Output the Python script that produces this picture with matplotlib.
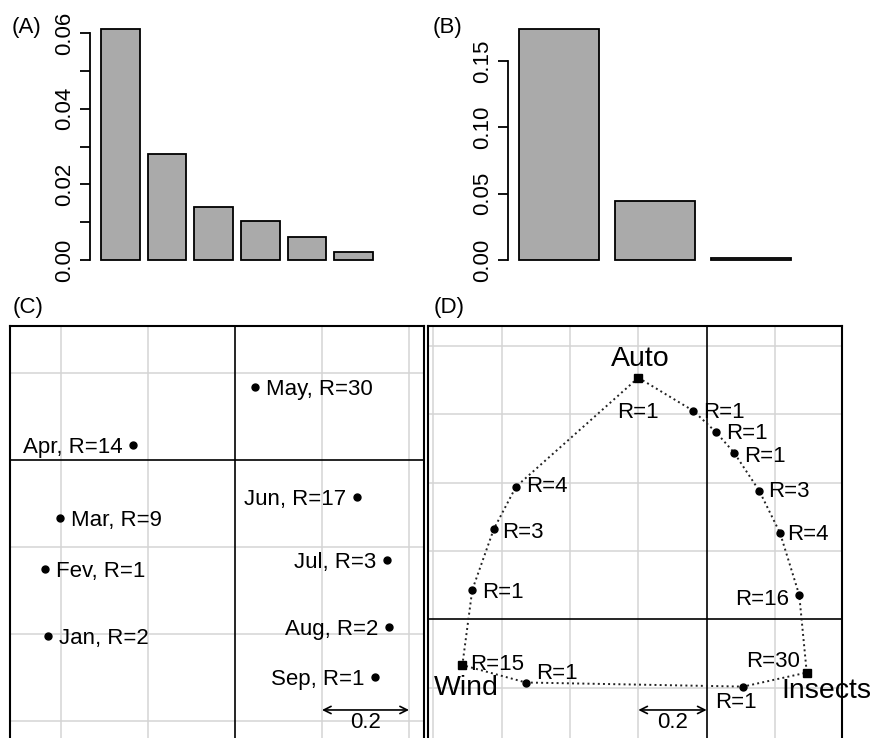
import matplotlib
matplotlib.use("Agg")
import matplotlib.pyplot as plt

plt.rcParams['font.family'] = ['Liberation Sans', 'DejaVu Sans']

# (A) and (B) bar heights
bars_a = [0.0611, 0.0280, 0.0140, 0.0103, 0.0061, 0.0022]
bars_b = [0.1742, 0.0443, 0.0018]
ticks_a = [0.00, 0.01, 0.02, 0.03, 0.04, 0.05, 0.06]
ticks_b = [0.00, 0.05, 0.10, 0.15]

# (C) months
months = ['Jan', 'Fev', 'Mar', 'Apr', 'May', 'Jun', 'Jul', 'Aug', 'Sep']
month_r = [2, 1, 9, 14, 30, 17, 3, 2, 1]
month_x = [-0.429, -0.437, -0.402, -0.234, 0.046, 0.281, 0.349, 0.355, 0.323]
month_y = [-0.405, -0.251, -0.134, 0.035, 0.167, -0.084, -0.230, -0.383, -0.498]

# (D) pollination syndromes, polygon order starting at Auto
poll_x = [-0.200, -0.039, 0.026, 0.080, 0.154, 0.215, 0.271, 0.293, 0.107,
          -0.529, -0.715, -0.686, -0.623, -0.558]
poll_y = [0.707, 0.610, 0.549, 0.488, 0.376, 0.252, 0.071, -0.156, -0.197,
          -0.185, -0.134, 0.086, 0.264, 0.388]
poll_r = [1, 1, 1, 1, 3, 4, 16, 30, 1, 1, 15, 1, 3, 4]
vertex_idx = [0, 7, 10]
vertex_names = ['Auto', 'Insects', 'Wind']

W, H = 873, 738
fig = plt.figure(figsize=(W / 100, H / 100), dpi=100)


def px_axes(left, top, right, bottom):
    return fig.add_axes([left / W, 1 - bottom / H, (right - left) / W, (bottom - top) / H])


def barpanel(left, right, heights, ticks):
    ax = px_axes(left, 19.8, right, 269.2)
    xs = [0.2 + 1.2 * i for i in range(len(heights))]
    ax.bar(xs, heights, width=1.0, align='edge', color='#aaaaaa',
           edgecolor='black', linewidth=1.3)
    n = len(heights)
    span = 1.2 * n - 0.2
    ax.set_xlim(0.2 - 0.04 * span, 0.2 + 1.04 * span)
    m = max(heights)
    ax.set_ylim(-0.04 * m, 1.04 * m)
    for s in ['top', 'right', 'bottom']:
        ax.spines[s].set_visible(False)
    ax.spines['left'].set_bounds(ticks[0], ticks[-1])
    ax.spines['left'].set_linewidth(1.3)
    ax.set_xticks([])
    ax.set_yticks(ticks)
    return ax


ax_a = barpanel(90.1, 383.9, bars_a, ticks_a)
ax_a.set_yticklabels([f'{t:.2f}' if i % 2 == 0 else '' for i, t in enumerate(ticks_a)])
ax_b = barpanel(508.1, 801.9, bars_b, ticks_b)
ax_b.set_yticklabels([f'{t:.2f}' for t in ticks_b])
for ax in (ax_a, ax_b):
    ax.tick_params(axis='y', length=7.2, width=1.3, pad=3.5, labelsize=16,
                   labelrotation=90)
    for lab in ax.get_yticklabels():
        lab.set_va('center')


def framepanel(ax, gx, gy):
    for v in gx:
        ax.axvline(v, color='#d4d4d4', lw=1.1, zorder=0)
    for v in gy:
        ax.axhline(v, color='#d4d4d4', lw=1.1, zorder=0)
    ax.axvline(0, color='black', lw=1.2, zorder=1)
    ax.axhline(0, color='black', lw=1.2, zorder=1)
    ax.set_xticks([])
    ax.set_yticks([])
    for s in ax.spines.values():
        s.set_linewidth(1.5)


# (C)
ax_c = px_axes(10, 325.7, 424, 760)
ax_c.set_xlim(-0.5172, 0.4345)
ax_c.set_ylim(-0.6897, 0.3087)
framepanel(ax_c, [-0.4, -0.2, 0.2, 0.4], [0.2, -0.2, -0.4, -0.6])
ax_c.plot(month_x, month_y, 'o', color='black', ms=5, zorder=3)
left_side = ['Apr', 'Jun', 'Jul', 'Aug', 'Sep']
for m, r, x, y in zip(months, month_r, month_x, month_y):
    lab = f'{m}, R={r}'
    if m in left_side:
        ax_c.annotate(lab, (x, y), xytext=(-11, -8), textcoords='offset pixels',
                      ha='right', va='baseline', fontsize=16)
    else:
        ax_c.annotate(lab, (x, y), xytext=(11, -8), textcoords='offset pixels',
                      ha='left', va='baseline', fontsize=16)
ax_c.annotate('', xy=(0.4, -0.5747), xytext=(0.2, -0.5747),
              arrowprops=dict(arrowstyle='<->', lw=1.2, shrinkA=0, shrinkB=0,
                              mutation_scale=13))
ax_c.text(0.3, -0.6168, '0.2', ha='center', va='baseline', fontsize=16)

# (D)
ax_d = px_axes(428.3, 325.7, 841.7, 760)
ax_d.set_xlim(-0.8147, 0.3953)
ax_d.set_ylim(-0.4118, 0.8592)
framepanel(ax_d, [-0.8, -0.6, -0.4, -0.2, 0.2], [0.8, 0.6, 0.4, 0.2, -0.2])
ax_d.plot(poll_x + poll_x[:1], poll_y + poll_y[:1], ':', color='#222222',
          lw=1.4, zorder=2)
dot_idx = [i for i in range(len(poll_x)) if i not in vertex_idx]
ax_d.plot([poll_x[i] for i in dot_idx], [poll_y[i] for i in dot_idx], 'o',
          color='black', ms=5, zorder=3)
ax_d.plot([poll_x[i] for i in vertex_idx], [poll_y[i] for i in vertex_idx], 's',
          color='black', ms=6, zorder=3)

r_offsets = [(0, -40.6, 'center'), (10, -7.6, 'left'), (11, -7.6, 'left'),
             (10, -9, 'left'), (9, -6.6, 'left'), (7, -6.7, 'left'),
             (-10, -10, 'right'), (-6.7, 6, 'right'), (-7.6, -21.6, 'center'),
             (10.7, 3.7, 'left'), (7.7, -5, 'left'), (9.4, -8.3, 'left'),
             (8.7, -9.3, 'left'), (10, -5, 'left')]
for x, y, r, (dx, dy, ha) in zip(poll_x, poll_y, poll_r, r_offsets):
    ax_d.annotate(f'R={r}', (x, y), xytext=(dx, dy), textcoords='offset pixels',
                  ha=ha, va='baseline', fontsize=16)
name_offsets = [(1.7, 11.7), (20, -25.6), (4.4, -30)]
for i, name, (dx, dy) in zip(vertex_idx, vertex_names, name_offsets):
    ax_d.annotate(name, (poll_x[i], poll_y[i]), xytext=(dx, dy),
                  textcoords='offset pixels', ha='center', va='baseline',
                  fontsize=20.5, annotation_clip=False)
ax_d.annotate('', xy=(0.0, -0.2654), xytext=(-0.2, -0.2654),
              arrowprops=dict(arrowstyle='<->', lw=1.2, shrinkA=0, shrinkB=0,
                              mutation_scale=13))
ax_d.text(-0.1, -0.319, '0.2', ha='center', va='baseline', fontsize=16)

# panel letters
for lab, x, y in [('(A)', 12, 32.5), ('(B)', 433, 32.5), ('(C)', 13, 313.3),
                  ('(D)', 434, 313.3)]:
    fig.text(x / W, 1 - y / H, lab, fontsize=16, va='baseline', ha='left')

fig.savefig('out.png', dpi=100)
